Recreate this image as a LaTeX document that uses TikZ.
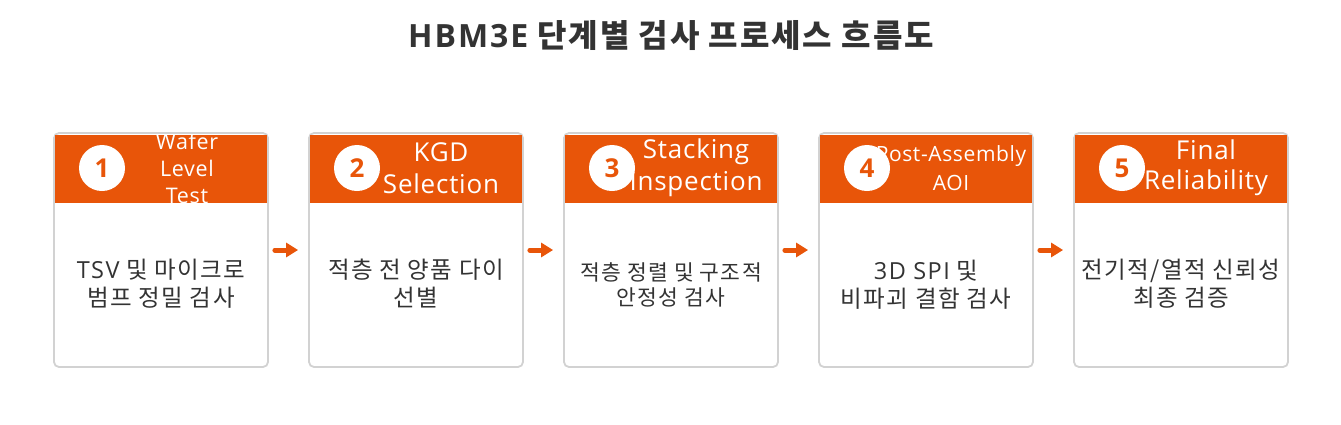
\documentclass[tikz,border=0pt]{standalone}
\usepackage{fontspec}
\setmainfont{Noto Sans CJK KR}[LetterSpace=6]
\newfontfamily\latfont{Open Sans}[LetterSpace=6]
\newfontfamily\headfont{Open Sans}[LetterSpace=3]
\newfontfamily\numfont{Open Sans}
\usetikzlibrary{arrows.meta}
\definecolor{hbmorange}{HTML}{E85509}
\definecolor{textgray}{HTML}{333333}
\definecolor{cardline}{HTML}{D2D2D2}
\tikzset{
  cardbox/.style={draw=cardline, line width=1.8pt, fill=white, rounded corners=5pt, minimum width=214pt, minimum height=234pt, inner sep=0pt},
  headbar/.style={fill=hbmorange},
  numcircle/.style={circle, fill=white, minimum size=46pt, inner sep=0pt, text=hbmorange, font=\numfont\fontsize{26}{26}\selectfont\bfseries},
  headtext/.style={text=white, align=center, inner sep=0pt},
  bodytext/.style={text=textgray, align=center, inner sep=0pt, font=\fontsize{23.5}{28}\selectfont},
  flowarrow/.style={draw=hbmorange, line width=5pt, line cap=round, -{Triangle[length=12pt,width=14pt]}, shorten <=6pt, shorten >=10pt}
}
\begin{document}
\begin{tikzpicture}[x=1pt,y=-1pt]
\useasboundingbox (0,0) rectangle (1341,424);
\node[text=textgray, font=\fontsize{32}{32}\selectfont\bfseries] (title) at (671,36) {{\latfont\bfseries HBM3E} 단계별 검사 프로세스 흐름도};
% cards
\foreach \i/\x in {1/161,2/416,3/671,4/926,5/1181}{
  \node[cardbox] (c\i) at (\x,250) {};
  \fill[headbar] (\x-106,135) rectangle (\x+106,203);
}
% header texts (clipped)
\begin{scope}
\clip (55,135) rectangle (267,203);
\node[headtext, font=\headfont\fontsize{21.5}{27}\selectfont] (h1) at (187,168) {Wafer\\Level\\Test};
\end{scope}
\begin{scope}
\clip (310,135) rectangle (522,203);
\node[headtext, font=\headfont\fontsize{26}{32}\selectfont] (h2) at (441,168) {KGD\\Selection};
\end{scope}
\begin{scope}
\clip (565,135) rectangle (777,203);
\node[headtext, font=\headfont\fontsize{26}{32}\selectfont] (h3) at (696,168) {Stacking\\Inspection};
\end{scope}
\begin{scope}
\clip (820,135) rectangle (1032,203);
\node[headtext, font=\headfont\fontsize{21}{29}\selectfont] (h4) at (951,168) {Post-Assembly\\AOI};
\end{scope}
\begin{scope}
\clip (1075,135) rectangle (1287,203);
\node[headtext, font=\headfont\fontsize{26}{30}\selectfont] (h5) at (1206,168) {Final\\Reliability};
\end{scope}
% number circles
\foreach \i/\x in {1/102,2/357,3/612,4/867,5/1122}{
  \node[numcircle] (n\i) at (\x,168) {\i};
}
% body texts
\node[bodytext] (b1) at (161,284) {{\latfont TSV} 및 마이크로\\범프 정밀 검사};
\node[bodytext] (b2) at (416,284) {적층 전 양품 다이\\선별};
\node[bodytext, font=\fontsize{21.5}{25}\selectfont] (b3) at (671,284.5) {적층 정렬 및 구조적\\안정성 검사};
\node[bodytext] (b4) at (926,285) {{\latfont 3D SPI} 및\\비파괴 결함 검사};
\node[bodytext] (b5) at (1181,284) {전기적/열적 신뢰성\\최종 검증};
% arrows
\draw[flowarrow] (c1.east) -- (c2.west);
\draw[flowarrow] (c2.east) -- (c3.west);
\draw[flowarrow] (c3.east) -- (c4.west);
\draw[flowarrow] (c4.east) -- (c5.west);
\end{tikzpicture}
\end{document}
